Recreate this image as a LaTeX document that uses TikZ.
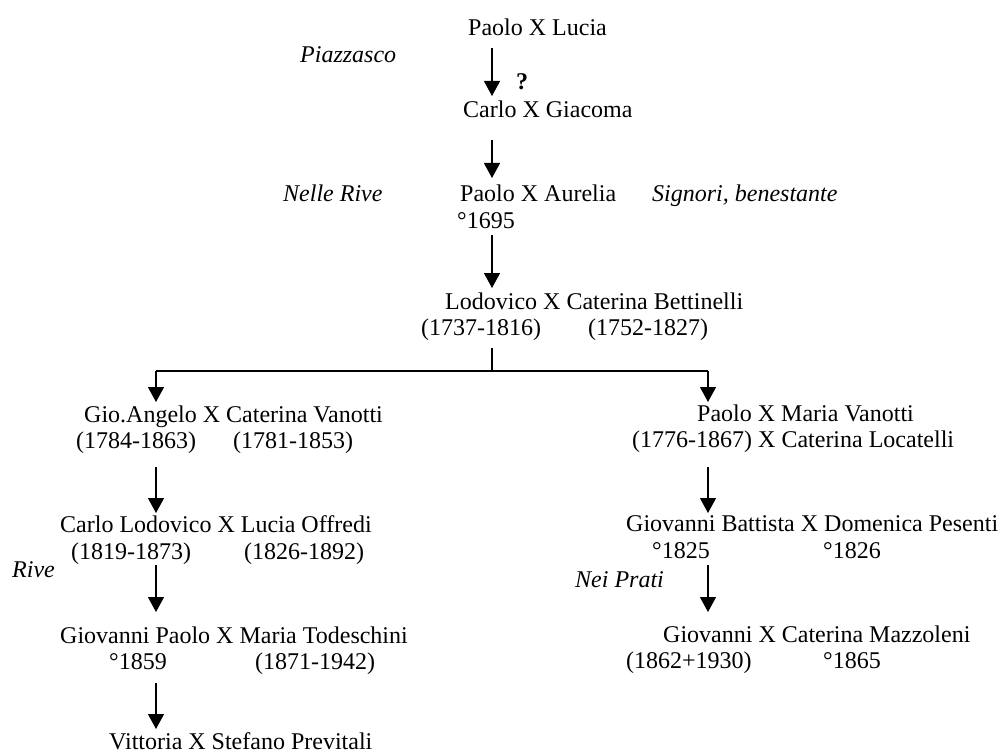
\documentclass[tikz,border=0pt]{standalone}
\usepackage{fontspec}
\setmainfont{Liberation Serif}
\usetikzlibrary{arrows.meta}
\begin{document}
\begin{tikzpicture}[x=1pt,y=-1pt,
  txt/.style={inner sep=0pt,anchor=base west,font=\fontsize{24}{28}\selectfont},
  itx/.style={txt,font=\fontsize{24}{28}\selectfont\itshape},
  arr/.style={line width=1.3pt,-{Triangle[length=15pt,width=16pt]}},
  ln/.style={line width=1.3pt}]
\useasboundingbox (0,0) rectangle (998,754);
% texts
\node[txt] (pl) at (468,36) {Paolo X Lucia};
\node[itx] (piaz) at (300,63) {Piazzasco};
\node[txt,font=\fontsize{24}{28}\selectfont\bfseries] (q) at (516,90) {?};
\node[txt] (cg) at (463,118) {Carlo X Giacoma};
\node[itx] (nr) at (283,202) {Nelle Rive};
\node[txt] (pa) at (460,202) {Paolo X Aurelia};
\node[itx] (sig) at (652,201) {Signori, benestante};
\node[txt] (pad) at (457,228) {°1695};
\node[txt] (lc) at (445,309) {Lodovico X Caterina Bettinelli};
\node[txt] (lcd1) at (421,335) {(1737-1816)};
\node[txt] (lcd2) at (588,335) {(1752-1827)};
\node[txt] (ga) at (84,422) {Gio.Angelo X Caterina Vanotti};
\node[txt] (gad1) at (76,448) {(1784-1863)};
\node[txt] (gad2) at (233,448) {(1781-1853)};
\node[txt] (pm) at (697,421) {Paolo X Maria Vanotti};
\node[txt] (pmd) at (632,447) {(1776-1867) X Caterina Locatelli};
\node[txt] (cl) at (60,532) {Carlo Lodovico X Lucia Offredi};
\node[txt] (cld1) at (71,559) {(1819-1873)};
\node[txt] (cld2) at (244,559) {(1826-1892)};
\node[itx] (rive) at (12,577) {Rive};
\node[txt] (gp) at (60,643) {Giovanni Paolo X Maria Todeschini};
\node[txt] (gpd1) at (109,669) {°1859};
\node[txt] (gpd2) at (255,669) {(1871-1942)};
\node[txt] (vs) at (109,749) {Vittoria X Stefano Previtali};
\node[txt] (gb) at (626,531) {Giovanni Battista X Domenica Pesenti};
\node[txt] (gbd1) at (652,558) {°1825};
\node[txt] (gbd2) at (823,558) {°1826};
\node[itx] (np) at (575,587) {Nei Prati};
\node[txt] (gc) at (663,642) {Giovanni X Caterina Mazzoleni};
\node[txt] (gcd1) at (626,668) {(1862+1930)};
\node[txt] (gcd2) at (823,668) {°1865};
% connector end points
\coordinate (a1s) at (492,48);  \coordinate (a1e) at (492,96);
\coordinate (a2s) at (492,140); \coordinate (a2e) at (492,178);
\coordinate (a3s) at (492,235); \coordinate (a3e) at (492,288);
\coordinate (bs) at (492,348);  \coordinate (bm) at (492,371);
\coordinate (bl) at (156,371);  \coordinate (br) at (708,371);
\coordinate (ble) at (156,402); \coordinate (bre) at (708,402);
\coordinate (l1s) at (156,467); \coordinate (l1e) at (156,513);
\coordinate (l2s) at (156,565); \coordinate (l2e) at (156,612);
\coordinate (l3s) at (156,683); \coordinate (l3e) at (156,729);
\coordinate (r1s) at (708,467); \coordinate (r1e) at (708,513);
\coordinate (r2s) at (708,565); \coordinate (r2e) at (708,612);
% connectors
\draw[arr] (a1s) -- (a1e);
\draw[arr] (a2s) -- (a2e);
\draw[arr] (a3s) -- (a3e);
\draw[ln] (bs) -- (bm);
\draw[ln] (bl) -- (br);
\draw[arr] (bl) -- (ble);
\draw[arr] (br) -- (bre);
\draw[arr] (l1s) -- (l1e);
\draw[arr] (l2s) -- (l2e);
\draw[arr] (l3s) -- (l3e);
\draw[arr] (r1s) -- (r1e);
\draw[arr] (r2s) -- (r2e);
\end{tikzpicture}
\end{document}
